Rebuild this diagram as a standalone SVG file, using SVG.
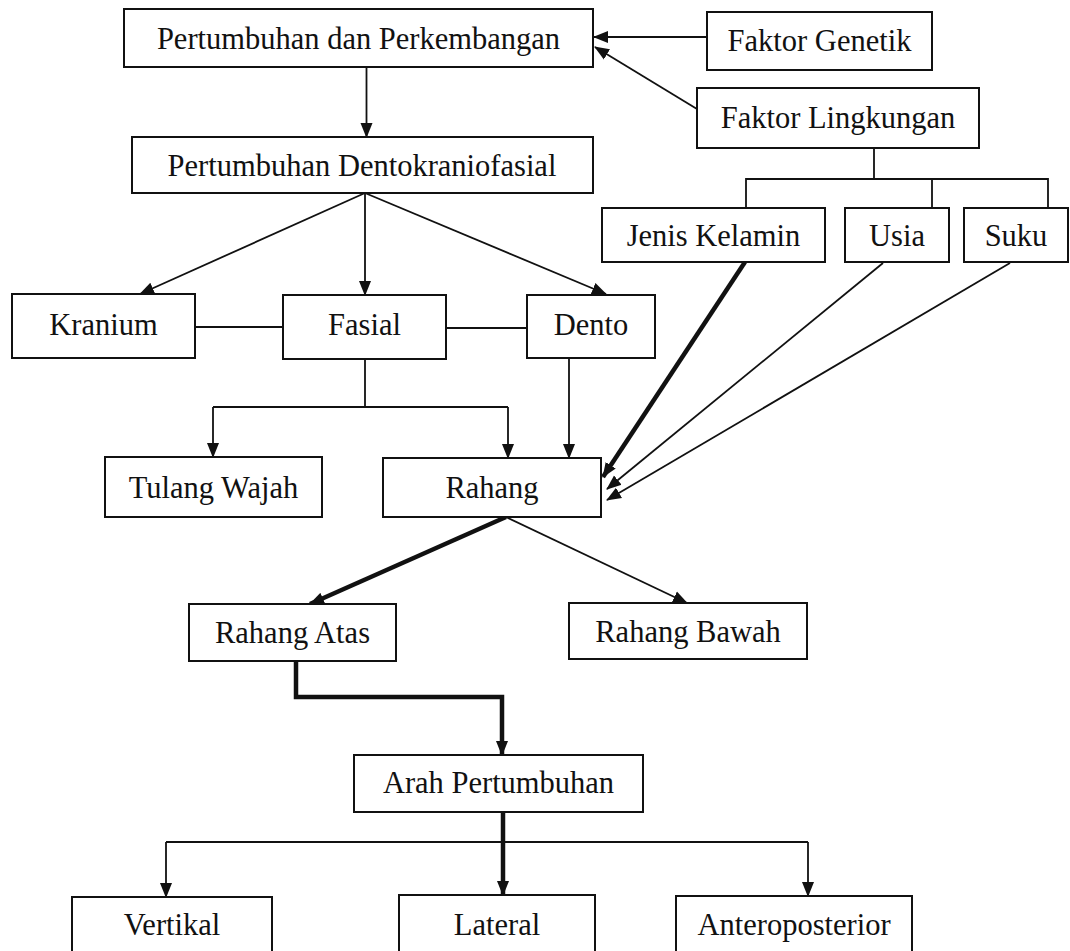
<svg xmlns="http://www.w3.org/2000/svg" width="1070" height="951" viewBox="0 0 1070 951">
<style>
.box{fill:#fff;stroke:#111;stroke-width:2}
.t{font-family:"Liberation Serif","Times New Roman",serif;font-size:30.5px;fill:#111;text-anchor:middle}
.c{fill:none;stroke:#111;stroke-width:1.8}
.k{fill:none;stroke:#111;stroke-width:4.5}
</style>
<defs>
<marker id="a" viewBox="0 0 15 13" markerWidth="15" markerHeight="13" refX="14" refY="6.5" orient="auto" markerUnits="userSpaceOnUse">
<path d="M0,0.5 L15,6.5 L0,12.5 z" fill="#111"/>
</marker>
</defs>
<rect width="1070" height="951" fill="#fff"/>
<g id="connectors">
<line class="c" x1="366.5" y1="67" x2="366.5" y2="137" marker-end="url(#a)"/>
<line class="c" x1="707" y1="37" x2="594" y2="37" marker-end="url(#a)"/>
<line class="c" x1="697" y1="109" x2="595" y2="47" marker-end="url(#a)"/>
<path class="c" d="M874,148 V179 M746,208 V179 H1048 V208 M932,179 V208"/>
<line class="c" x1="365" y1="193" x2="140" y2="294" marker-end="url(#a)"/>
<line class="c" x1="365" y1="193" x2="365" y2="295" marker-end="url(#a)"/>
<line class="c" x1="365" y1="193" x2="606" y2="294" marker-end="url(#a)"/>
<line class="c" x1="195" y1="327" x2="283" y2="327"/>
<line class="c" x1="446" y1="328" x2="527" y2="328"/>
<path class="c" d="M365,359 V407 M213,407 H508"/>
<line class="c" x1="213" y1="407" x2="213" y2="457" marker-end="url(#a)"/>
<line class="c" x1="508" y1="407" x2="508" y2="458" marker-end="url(#a)"/>
<line class="c" x1="569" y1="358" x2="569" y2="458" marker-end="url(#a)"/>
<line class="k" x1="745" y1="262" x2="603" y2="477" marker-end="url(#a)"/>
<line class="c" x1="883" y1="263" x2="607" y2="489" marker-end="url(#a)"/>
<line class="c" x1="1010" y1="263" x2="607" y2="500" marker-end="url(#a)"/>
<line class="k" x1="506" y1="517" x2="310" y2="604" marker-end="url(#a)"/>
<line class="c" x1="506" y1="517" x2="687" y2="603" marker-end="url(#a)"/>
<path class="k" d="M296,661 V697 H502 V755" marker-end="url(#a)"/>
<line class="k" x1="503" y1="812" x2="503" y2="895" marker-end="url(#a)"/>
<line class="c" x1="166" y1="842" x2="808" y2="842"/>
<line class="c" x1="166" y1="842" x2="166" y2="897" marker-end="url(#a)"/>
<line class="c" x1="808" y1="842" x2="808" y2="896" marker-end="url(#a)"/>
</g>
<g id="n-pp"><rect class="box" x="124" y="9" width="469" height="58"/><text class="t" x="358.5" y="48.5">Pertumbuhan dan Perkembangan</text></g>
<g id="n-fg"><rect class="box" x="707" y="12" width="225" height="58"/><text class="t" x="819.5" y="51">Faktor Genetik</text></g>
<g id="n-fl"><rect class="box" x="697" y="88" width="282" height="60"/><text class="t" x="838" y="128">Faktor Lingkungan</text></g>
<g id="n-pd"><rect class="box" x="132" y="137" width="461" height="56"/><text class="t" x="362" y="176">Pertumbuhan Dentokraniofasial</text></g>
<g id="n-jk"><rect class="box" x="602" y="208" width="223" height="54"/><text class="t" x="713.5" y="246">Jenis Kelamin</text></g>
<g id="n-us"><rect class="box" x="845" y="208" width="104" height="54"/><text class="t" x="897" y="246">Usia</text></g>
<g id="n-su"><rect class="box" x="964" y="208" width="104" height="54"/><text class="t" x="1016" y="246">Suku</text></g>
<g id="n-kr"><rect class="box" x="12" y="294" width="183" height="64"/><text class="t" x="103.5" y="334.5">Kranium</text></g>
<g id="n-fa"><rect class="box" x="283" y="295" width="163" height="64"/><text class="t" x="364.5" y="334.5">Fasial</text></g>
<g id="n-de"><rect class="box" x="527" y="295" width="128" height="63"/><text class="t" x="591" y="335">Dento</text></g>
<g id="n-tw"><rect class="box" x="105" y="457" width="217" height="60"/><text class="t" x="213.5" y="498">Tulang Wajah</text></g>
<g id="n-ra"><rect class="box" x="383" y="458" width="218" height="59"/><text class="t" x="492" y="498">Rahang</text></g>
<g id="n-rat"><rect class="box" x="189" y="604" width="207" height="57"/><text class="t" x="292.5" y="643">Rahang Atas</text></g>
<g id="n-rb"><rect class="box" x="569" y="603" width="238" height="56"/><text class="t" x="688" y="642">Rahang Bawah</text></g>
<g id="n-ap"><rect class="box" x="354" y="755" width="289" height="57"/><text class="t" x="498.5" y="793">Arah Pertumbuhan</text></g>
<g id="n-ve"><rect class="box" x="72" y="897" width="200" height="70"/><text class="t" x="172" y="935">Vertikal</text></g>
<g id="n-la"><rect class="box" x="399" y="895" width="196" height="70"/><text class="t" x="497" y="935">Lateral</text></g>
<g id="n-an"><rect class="box" x="676" y="896" width="236" height="70"/><text class="t" x="794" y="935">Anteroposterior</text></g>
</svg>
